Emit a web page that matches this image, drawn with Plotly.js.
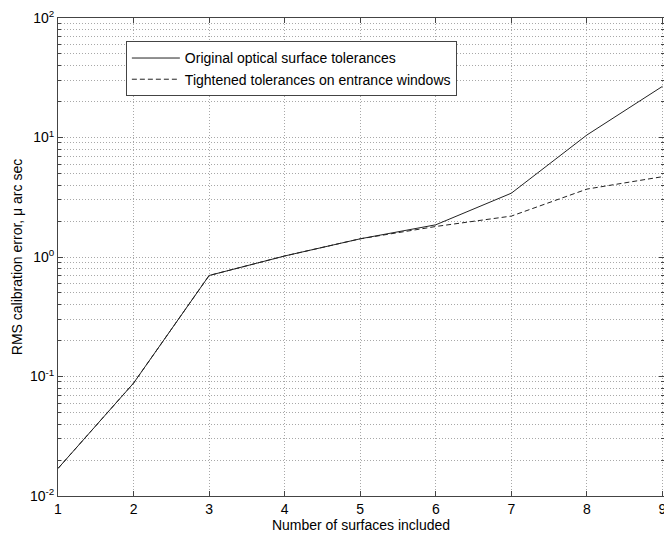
<!DOCTYPE html>
<html>
<head>
<meta charset="utf-8">
<script src="https://cdn.plot.ly/plotly-3.0.1.min.js"></script>
<style>html,body{margin:0;padding:0;background:#fff;}#chart{width:664px;height:536px;}</style>
</head>
<body>
<div id="chart"></div>
<script>
var surfaces = [1, 2, 3, 4, 5, 6, 7, 8, 9];
var originalTol = [0.017, 0.088, 0.70, 1.02, 1.42, 1.86, 3.42, 10.5, 26.8];
var tightenedTol = [0.017, 0.088, 0.70, 1.02, 1.42, 1.80, 2.20, 3.70, 4.70];
var yTickVals = [0.01, 0.1, 1, 10, 100];
var yTickText = ['10<sup>-2</sup>', '10<sup>-1</sup>', '10<sup>0</sup>', '10<sup>1</sup>', '10<sup>2</sup>'];
var xTickVals = [1, 2, 3, 4, 5, 6, 7, 8, 9];

var font = {family: 'Liberation Sans, Arial, sans-serif', size: 14, color: '#000'};
var gridCol = '#a8a8a8';
var gridDash = '1px,2px';

var traces = [
  {x: surfaces, y: originalTol, type: 'scatter', mode: 'lines',
   name: 'Original optical surface tolerances',
   line: {color: '#222', width: 1, dash: 'solid'}},
  {x: surfaces, y: tightenedTol, type: 'scatter', mode: 'lines',
   name: 'Tightened tolerances on entrance windows',
   line: {color: '#222', width: 1, dash: '5px,3px'}}
];

var layout = {
  width: 664, height: 536,
  margin: {l: 58, r: 0, t: 18, b: 40},
  paper_bgcolor: '#fff', plot_bgcolor: '#fff',
  font: font,
  showlegend: true,
  legend: {x: 0.112, y: 0.951, xanchor: 'left', yanchor: 'top',
           bordercolor: '#444', borderwidth: 1, bgcolor: '#fff',
           font: {family: font.family, size: 14, color: '#000'},
           itemwidth: 48, tracegroupgap: 0},
  xaxis: {
    range: [1, 9.02], tickvals: xTickVals, ticktext: xTickVals.map(String),
    ticklabeloverflow: 'allow',
    showgrid: true, gridcolor: gridCol, griddash: gridDash, gridwidth: 1,
    ticks: 'inside', ticklen: 5, tickcolor: '#444',
    showline: true, linecolor: '#444', linewidth: 1, mirror: 'ticks',
    zeroline: false,
    title: {text: 'Number of surfaces included', font: font, standoff: 2},
    tickfont: font
  },
  yaxis: {
    type: 'log', range: [-2, 2], tickvals: yTickVals, ticktext: yTickText,
    showgrid: true, gridcolor: gridCol, griddash: gridDash, gridwidth: 1,
    ticks: 'inside', ticklen: 5, tickcolor: '#444',
    showline: true, linecolor: '#444', linewidth: 1, mirror: 'ticks',
    zeroline: false,
    minor: {dtick: 'D1', showgrid: true, gridcolor: gridCol, griddash: gridDash, gridwidth: 1,
            ticks: 'inside', ticklen: 3, tickcolor: '#444'},
    title: {text: 'RMS calibration error, \u03bc arc sec', font: font, standoff: 4},
    tickfont: font
  }
};

Plotly.newPlot('chart', traces, layout, {displayModeBar: false, staticPlot: true});
</script>
</body>
</html>
